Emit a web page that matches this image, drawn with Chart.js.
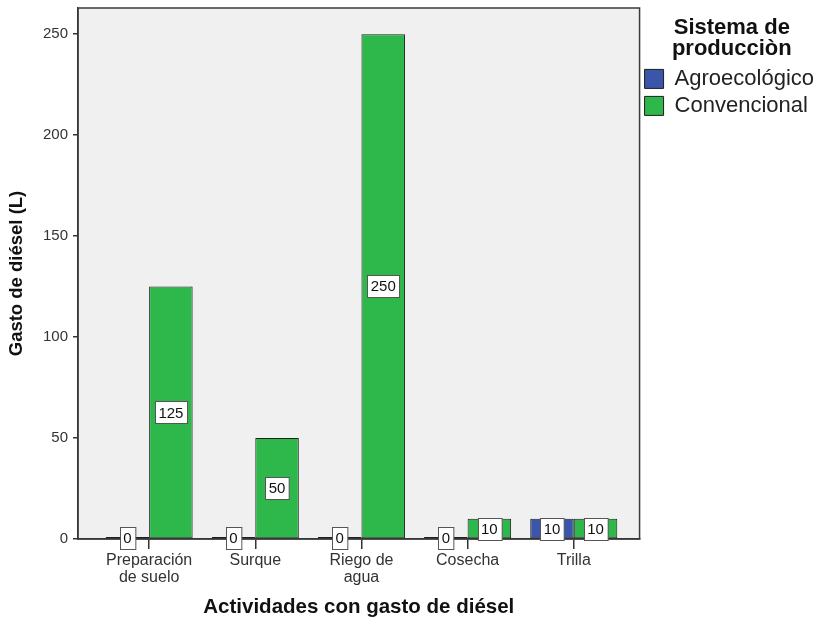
<!DOCTYPE html>
<html><head><meta charset="utf-8">
<script src="https://cdn.jsdelivr.net/npm/chart.js@4"></script>
<style>html,body{margin:0;padding:0;background:#fff}</style>
</head><body>
<canvas id="c" width="817" height="622"></canvas>
<script>
const categories = [['Preparación','de suelo'], 'Surque', ['Riego de','agua'], 'Cosecha', 'Trilla'];
const seriesNames = ['Agroecológico', 'Convencional'];
const agroValues = [0, 0, 0, 0, 10];
const convValues = [125, 50, 250, 10, 10];
const yTickValues = [0, 50, 100, 150, 200, 250];
const legendTitle = ['Sistema de', 'producciòn'];
const xTitle = 'Actividades con gasto de diésel';
const yTitle = 'Gasto de diésel (L)';

const FONT = "'Liberation Sans', Arial, sans-serif";
const BLUE = '#3b56a9';
const GREEN = '#2eb84b';
const EDGE = '#1e1e1e';

function toPoints(arr){ return arr.map((v,i)=>({x:i, y:v})); }

const framePlugin = {
  id: 'frame',
  beforeDraw(chart){
    const {ctx, chartArea:a} = chart;
    ctx.save();
    ctx.fillStyle = '#f0f0f0';
    ctx.fillRect(a.left, a.top, a.width, a.height);
    ctx.restore();
  },
  afterDatasetsDraw(chart){
    const {ctx, chartArea:a} = chart;
    ctx.save();
    ctx.strokeStyle = '#3a3a3a';
    ctx.lineWidth = 1.5;
    ctx.strokeRect(a.left, a.top, a.width, a.height);
    ctx.restore();
  }
};

const labelPlugin = {
  id: 'valueBoxes',
  afterDatasetsDraw(chart){
    const ctx = chart.ctx;
    ctx.save();
    ctx.font = '15px ' + FONT;
    ctx.textAlign = 'center';
    ctx.textBaseline = 'middle';
    chart.data.datasets.forEach((ds, di) => {
      const meta = chart.getDatasetMeta(di);
      meta.data.forEach((el, i) => {
        const v = ds.data[i].y;
        const txt = String(v);
        const cy = v === 0 ? el.base : (el.y + el.base) / 2;
        const w = ctx.measureText(txt).width + 7;
        const h = 22;
        const x0 = Math.round(el.x - w/2) + 0.5;
        const y0 = Math.round(cy - h/2) + 0.5;
        ctx.fillStyle = '#ffffff';
        ctx.fillRect(x0, y0, w, h);
        ctx.strokeStyle = '#555';
        ctx.lineWidth = 1;
        ctx.strokeRect(x0, y0, w, h);
        ctx.fillStyle = '#111';
        ctx.fillText(txt, el.x, cy + 1);
      });
    });
    ctx.restore();
  }
};

new Chart(document.getElementById('c'), {
  type: 'bar',
  data: {
    datasets: [
      { label: seriesNames[0], data: toPoints(agroValues), backgroundColor: BLUE, borderColor: EDGE, borderWidth: 1, borderSkipped: false, minBarLength: 2 },
      { label: seriesNames[1], data: toPoints(convValues), backgroundColor: GREEN, borderColor: EDGE, borderWidth: 1, borderSkipped: false, minBarLength: 2 }
    ]
  },
  options: {
    responsive: false,
    animation: false,
    devicePixelRatio: 1,
    categoryPercentage: 0.82,
    barPercentage: 1,
    layout: { padding: { top: 8, left: 0, right: -7, bottom: 0 } },
    plugins: {
      tooltip: { enabled: false },
      legend: {
        position: 'right',
        align: 'start',
        title: {
          display: true,
          text: legendTitle,
          color: '#111',
          position: 'center',
          font: { family: FONT, size: 22, weight: 'bold', lineHeight: 0.95 },
          padding: { top: 9, bottom: 25 }
        },
        labels: {
          color: '#222',
          font: { family: FONT, size: 22 },
          boxWidth: 19,
          boxHeight: 19,
          padding: 5
        }
      }
    },
    scales: {
      x: {
        type: 'linear',
        min: -0.67,
        max: 4.62,
        offset: false,
        afterFit(s){ s.height = 83; s.paddingLeft = 0; s.paddingRight = 0; },
        afterBuildTicks(s){ s.ticks = categories.map((_, i) => ({ value: i })); },
        ticks: {
          autoSkip: false,
          maxRotation: 0,
          minRotation: 0,
          padding: 3,
          color: '#333',
          font: { family: FONT, size: 16, lineHeight: 1.05 },
          callback: (v, i) => categories[i]
        },
        grid: { offset: false, drawOnChartArea: false, drawTicks: true, tickLength: 10, color: '#333', lineWidth: 1.5 },
        border: { display: true, color: '#333', width: 1.5 },
        title: { display: true, text: xTitle, color: '#111', font: { family: FONT, size: 20.5, weight: 'bold', lineHeight: 1.2 }, padding: { top: 0, bottom: 2 } }
      },
      y: {
        min: 0,
        max: 263,
        afterFit(s){ s.width = 78; s.paddingTop = 0; s.paddingBottom = 0; },
        afterBuildTicks(s){ s.ticks = yTickValues.map(v => ({ value: v })); },
        ticks: { padding: 5, color: '#333', font: { family: FONT, size: 15 } },
        grid: { drawOnChartArea: false, drawTicks: true, tickLength: 5, color: '#333', lineWidth: 1.5 },
        border: { display: true, color: '#333', width: 1.5 },
        title: { display: true, text: yTitle, color: '#111', font: { family: FONT, size: 18.5, weight: 'bold', lineHeight: 1.2 }, padding: { top: 6, bottom: 0 } }
      }
    }
  },
  plugins: [framePlugin, labelPlugin]
});
</script>
</body></html>
